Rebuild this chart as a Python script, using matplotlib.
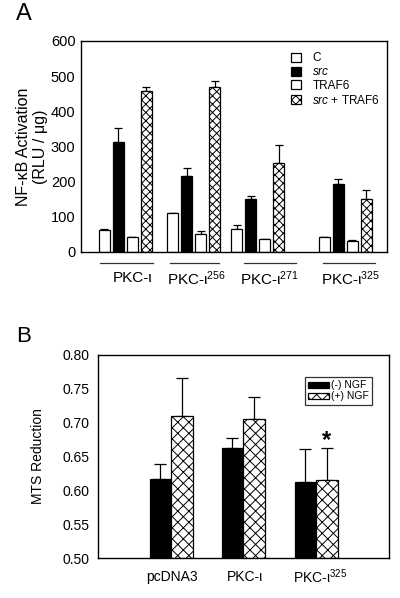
import matplotlib
matplotlib.use("Agg")
import matplotlib.pyplot as plt
from matplotlib.patches import Patch

plt.rcParams['font.family'] = ['Liberation Sans', 'DejaVu Sans']
plt.rcParams['mathtext.fontset'] = 'custom'
plt.rcParams['mathtext.rm'] = 'Liberation Sans'
plt.rcParams['mathtext.it'] = 'Liberation Sans:italic'
plt.rcParams['mathtext.default'] = 'regular'
plt.rcParams['hatch.linewidth'] = 0.7

# ---- panel A data ----
groups_a = ['PKC-ι', 'PKC-ι$^{256}$', 'PKC-ι$^{271}$', 'PKC-ι$^{325}$']
series_a = ['C', '$\\it{src}$', 'TRAF6', '$\\it{src}$ + TRAF6']
c_vals = [62, 110, 65, 42]
c_err = [2, 2, 11, 2]
src_vals = [312, 215, 150, 193]
src_err = [40, 25, 8, 15]
traf_vals = [42, 50, 37, 32]
traf_err = [2, 10, 1, 2]
both_vals = [458, 470, 252, 152]
both_err = [12, 15, 53, 23]

# ---- panel B data ----
groups_b = ['pcDNA3', 'PKC-ι', 'PKC-ι$^{325}$']
series_b = ['(-) NGF', '(+) NGF']
minus_ngf = [0.617, 0.662, 0.613]
minus_err = [0.022, 0.015, 0.048]
plus_ngf = [0.710, 0.705, 0.615]
plus_err = [0.056, 0.033, 0.047]

# layout (pixel-like x units)
centers_a = [125, 193.5, 257.5, 345]
offs_a = [-21, -7, 7, 21]
w_a = 11
lines_a = [(100, 153), (170, 219), (244, 296), (323, 375)]
label_x_a = [133, 197, 270, 351]

centers_b = [171, 243, 316]
w_b = 21.5

fig = plt.figure(figsize=(4, 5.98), dpi=100)

# ================= A =================
ax = fig.add_axes([81 / 400, 1 - 252 / 598, 306 / 400, 211 / 598])
styles = [dict(color='white', hatch=None),
          dict(color='black', hatch=None),
          dict(color='white', hatch=None),
          dict(color='white', hatch='xxxx')]
vals = [c_vals, src_vals, traf_vals, both_vals]
errs = [c_err, src_err, traf_err, both_err]
handles = []
for k in range(4):
    xs = [c + offs_a[k] for c in centers_a]
    ax.bar(xs, vals[k], width=w_a, color=styles[k]['color'], edgecolor='black',
           linewidth=0.9, hatch=styles[k]['hatch'], zorder=2)
    ax.errorbar(xs, vals[k], yerr=[[0] * 4, errs[k]], fmt='none', ecolor='black',
                elinewidth=0.9, capsize=3, capthick=0.9, zorder=1)
    handles.append(Patch(facecolor=styles[k]['color'], edgecolor='black',
                         hatch=styles[k]['hatch'], linewidth=0.9))
ax.set_xlim(81, 387)
ax.set_ylim(0, 600)
ax.set_yticks([0, 100, 200, 300, 400, 500, 600])
ax.set_xticks([])
ax.tick_params(axis='y', length=0, pad=4, labelsize=10.5)
ax.set_ylabel('NF-κB Activation\n(RLU / μg)', fontsize=11.5, labelpad=2,
              linespacing=1.2)
for s in ax.spines.values():
    s.set_linewidth(1.0)
leg = ax.legend(handles, series_a, loc='upper left', bbox_to_anchor=(0.66, 0.985),
                frameon=False, fontsize=8.5, handlelength=0.8, handleheight=0.8,
                handletextpad=1.0, labelspacing=0.15, borderpad=0.2)
trans = ax.get_xaxis_transform()
for (x0, x1), lx, lab in zip(lines_a, label_x_a, groups_a):
    ax.plot([x0, x1], [-0.052, -0.052], color='#333333', lw=0.9,
            transform=trans, clip_on=False)
    ax.text(lx, -0.125, lab, transform=trans, ha='center', va='center', fontsize=11)
fig.text(16 / 400, 1 - 14 / 598, 'A', fontsize=17, va='center', ha='left')

# ================= B =================
bx = fig.add_axes([98 / 400, 1 - 558 / 598, 291 / 400, 203 / 598])
xs_m = [c - w_b / 2 for c in centers_b]
xs_p = [c + w_b / 2 for c in centers_b]
bx.bar(xs_m, [v - 0.5 for v in minus_ngf], bottom=0.5, width=w_b, color='black',
       edgecolor='black', linewidth=0.9, zorder=2, label=series_b[0])
bx.bar(xs_p, [v - 0.5 for v in plus_ngf], bottom=0.5, width=w_b, color='white',
       edgecolor='black', linewidth=0.9, hatch='xxx', zorder=2, label=series_b[1])
bx.errorbar(xs_m, minus_ngf, yerr=[[0] * 3, minus_err], fmt='none', ecolor='black',
            elinewidth=0.9, capsize=4, capthick=0.9, zorder=1)
bx.errorbar(xs_p, plus_ngf, yerr=[[0] * 3, plus_err], fmt='none', ecolor='black',
            elinewidth=0.9, capsize=4, capthick=0.9, zorder=1)
bx.text(xs_p[2], plus_ngf[2] + plus_err[2] - 0.006, '*', ha='center', va='bottom',
        fontsize=17, fontweight='bold')
bx.set_xlim(98, 389)
bx.set_ylim(0.5, 0.8)
bx.set_yticks([0.50, 0.55, 0.60, 0.65, 0.70, 0.75, 0.80])
bx.set_yticklabels(['0.50', '0.55', '0.60', '0.65', '0.70', '0.75', '0.80'])
bx.set_xticks([])
bx.tick_params(axis='y', length=0, pad=6, labelsize=10)
bx.set_ylabel('MTS Reduction', fontsize=10, labelpad=13)
for s in bx.spines.values():
    s.set_linewidth(1.0)
lg = bx.legend(loc='upper right', bbox_to_anchor=(0.94, 0.89), fontsize=7.5,
               frameon=True, fancybox=False, edgecolor='black', handlelength=2.0,
               handleheight=0.45, handletextpad=0.15, labelspacing=0.1,
               borderpad=0.3, borderaxespad=0)
lg.get_frame().set_linewidth(0.9)
tb = bx.get_xaxis_transform()
label_x_b = [172, 245, 320]
for lx, lab in zip(label_x_b, groups_b):
    bx.text(lx, -0.094, lab, transform=tb, ha='center', va='center', fontsize=10)
fig.text(16 / 400, 1 - 337 / 598, 'B', fontsize=16, va='center', ha='left')

fig.savefig('out.png', dpi=100)
